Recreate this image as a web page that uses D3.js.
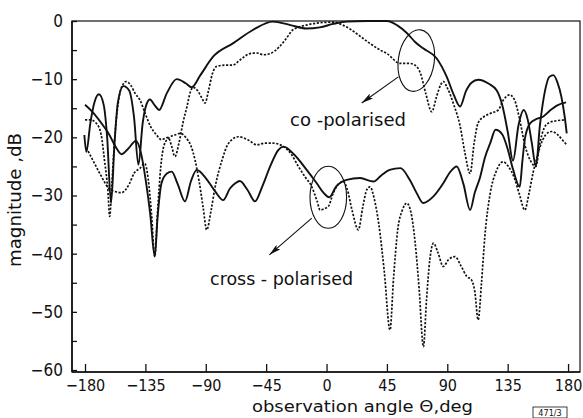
<!DOCTYPE html>
<html><head><meta charset="utf-8">
<script src="https://cdn.jsdelivr.net/npm/d3@7/dist/d3.min.js"></script>
<style>body{margin:0;background:#fff}svg{display:block}</style>
</head><body>
<svg id="chart" width="583" height="418"></svg>
<script>
// ---- data (theta in degrees, magnitude in dB) ----
const xTicks = [-180, -135, -90, -45, 0, 45, 90, 135, 180];
const yTicks = [0, -10, -20, -30, -40, -50, -60];
const yMinorTicks = [-5, -15, -25, -35, -45, -55];

const coPolSolid = [[-180.5,-19.6],[-179,-22.5],[-176,-17.5],[-173,-14],[-169.6,-12.6],[-166,-14.5],[-163.5,-20],[-160.6,-31.3],[-158,-21],[-155.5,-14],[-151.4,-11.2],[-147,-12],[-143.5,-16.5],[-140.2,-24.7],[-137,-17.5],[-134,-14.2],[-131.6,-13.5],[-128,-14.5],[-124.8,-15.3],[-119,-12.4],[-111.6,-10],[-105,-10.7],[-100.5,-11.4],[-94,-9.3],[-84.4,-6.1],[-69.5,-3.8],[-54.6,-1.5],[-40,-0.1],[-27,-0.7],[-15,-1.3],[-5,-1.1],[5,-0.5],[15,-0.1],[30,0],[45,0],[53,-0.8],[60,-2.1],[66,-3.6],[72,-4.7],[82,-6.4],[89.6,-9.6],[95,-12.8],[99.5,-14.7],[104,-12],[108,-10.6],[113,-10.1],[121,-10.8],[127,-12],[131,-14.5],[135,-19],[139,-24],[143,-18],[147,-15.3],[150,-17],[153,-21],[156,-25],[159,-18],[163,-11.8],[166,-9.6],[169,-9.3],[172,-10.5],[175,-13],[177.5,-16.5],[179,-19.3]];

const coPolDashed = [[-180,-17],[-176,-17],[-171.5,-17.6],[-168,-19.5],[-165.5,-23.9],[-163,-29],[-161.6,-33.6],[-160,-28],[-157.5,-19],[-154.5,-13],[-151.5,-10.8],[-149.5,-10.4],[-146,-11],[-142.5,-12.5],[-139,-13.6],[-135,-16],[-131,-18.2],[-127,-19.5],[-123,-20.4],[-118,-20],[-115.5,-21.5],[-113,-23.3],[-110,-21],[-107,-17.5],[-104,-14.7],[-101.5,-12.2],[-99.5,-11.4],[-96,-12],[-93,-13.2],[-90.5,-14.1],[-88,-12],[-85,-9],[-81.8,-7.8],[-76,-7.6],[-70,-7.6],[-64.5,-6.7],[-57,-5.6],[-52,-5.5],[-47,-5.8],[-42,-5.6],[-35,-4.4],[-30,-3],[-25,-1.5],[-15,-0.7],[-5,-0.3],[5,-0.2],[12,-0.7],[17,-1.3],[22,-2.1],[32,-3.8],[40,-5],[45,-5.6],[55,-7.3],[62,-7.3],[66,-7.6],[70,-9],[74,-12.5],[78.4,-15.6],[82,-13],[85,-11],[87,-10.4],[90,-11.5],[95,-14.5],[99.5,-18],[103,-22.5],[107,-26.2],[110,-21],[113,-17.5],[117,-16.5],[122,-15.9],[128,-15.3],[132,-13.5],[136.5,-12.7],[140,-13.5],[144,-17],[148,-21.5],[152,-24],[156,-25],[159,-21],[162,-18.5],[165,-17.6],[170,-17.2],[178.5,-17]];

const crossPolSolid = [[-180,-14.4],[-175,-15.5],[-168,-17.5],[-162,-19.5],[-157.5,-21.5],[-152.6,-22.9],[-148,-22],[-142,-20.6],[-138.5,-22.5],[-135,-27],[-131.5,-33],[-128,-40.5],[-126,-34],[-123,-27.9],[-119,-26.2],[-115.4,-25.9],[-111,-28],[-105.5,-31],[-101,-27.5],[-96.7,-25.6],[-90,-27],[-83,-29.3],[-77,-30.8],[-72,-28.8],[-68,-27.9],[-64.6,-27.5],[-59,-29],[-53.3,-31],[-48,-28.5],[-42,-25],[-36,-22.2],[-32,-21.6],[-24,-23],[-14.8,-25.6],[-7.3,-27.9],[-2,-29.6],[2,-30.3],[7,-28.5],[15,-27.3],[25,-27],[35,-27.6],[41,-26.5],[47,-25.6],[55,-25.3],[62,-27.3],[67,-29.5],[72,-31.3],[79.5,-30.2],[87,-27.9],[92,-26],[97,-25],[102,-28],[107,-32.5],[110.5,-29.5],[114.5,-26.8],[118,-23.5],[122,-21],[126,-18.7],[131,-19.5],[135,-22],[139,-25.5],[144,-28.5],[146,-24],[148,-20],[152,-17.5],[157,-16.8],[161,-16.5],[166,-15.5],[172,-14.5],[178.5,-14]];

const crossPolDashed = [[-179,-21.8],[-174,-24],[-169,-26.2],[-161,-29],[-152.6,-29.5],[-147,-28],[-143.5,-26.2],[-139,-25.3],[-135.5,-24.5],[-133,-27],[-130.5,-33],[-128,-40.5],[-126,-33],[-123.5,-25],[-121,-21.3],[-117,-20],[-113,-19.6],[-109,-19.3],[-105,-20],[-101,-21.5],[-98,-23.9],[-95,-27.5],[-92,-32],[-89.3,-35.9],[-86,-32.5],[-83,-28.5],[-78,-24],[-73,-21],[-65.7,-19.9],[-58,-20.5],[-52,-21.3],[-46,-21],[-40,-21],[-32,-21.6],[-26,-23],[-21,-25],[-16,-26.8],[-11,-28.5],[-7,-31],[-4.8,-32.5],[-1,-32.2],[1.3,-31.9],[5,-29.6],[9,-28],[12.5,-27.6],[15.5,-29],[19,-32.5],[23.7,-35.9],[27,-32],[30,-29],[32.4,-28.5],[35.5,-30.5],[39,-35],[43,-43],[47.3,-53.1],[50,-44],[53,-36],[56.5,-32.5],[59.8,-31.3],[63,-33],[66,-38],[69,-46],[72.2,-56],[74.5,-48],[77,-41],[79.7,-38.2],[83,-39.8],[87,-42.2],[91,-41],[95.8,-40.5],[100,-42],[104.5,-43.9],[108,-44.5],[110.5,-46.5],[113,-51.4],[115.5,-45],[118,-37],[122,-29.6],[126.5,-25.8],[131.5,-24.2],[135.5,-25],[140,-27],[144,-30],[147.7,-32.5],[151,-29.5],[154,-26],[157,-23.3],[161,-20.5],[165,-19.2],[168,-19],[172,-19.5],[176,-20.5],[179,-21.3]];

// annotations (data coordinates)
const labels = [
  {text: "co -polarised", theta: -27.2, db: -18.0, len: 116},
  {text: "cross - polarised", theta: -86.8, db: -45.4, len: 143}
];
const ellipses = [{theta: 66.9, db: -6.8, rx: 18, ry: 31, rot: 8}, {theta: 1.3, db: -30.3, rx: 18.3, ry: 31, rot: 0}];
const arrows = [{from: [53.5, -9.6], to: [26.2, -14.1]}, {from: [-11, -33.9], to: [-42.6, -40.2]}];

// ---- chart ----
const svg = d3.select("#chart");
const L = 72, R = 580, T = 21, B = 372;
const x = d3.scaleLinear().domain([-189.7, 188.9]).range([L, R]);
const y = d3.scaleLinear().domain([-60.34, 0]).range([B, T]);
const font = "'DejaVu Sans Condensed','DejaVu Sans',sans-serif";

// frame
svg.append("rect").attr("x", L).attr("y", T).attr("width", R - L).attr("height", B - T)
  .attr("fill", "none").attr("stroke", "#111").attr("stroke-width", 1.2);
svg.append("line").attr("x1", L).attr("x2", L).attr("y1", T).attr("y2", B).attr("stroke", "#111").attr("stroke-width", 1.6);
svg.append("line").attr("x1", L).attr("x2", R).attr("y1", B).attr("y2", B).attr("stroke", "#111").attr("stroke-width", 1.6);

// x axis
const gx = svg.append("g").attr("transform", `translate(0,${B})`)
  .call(d3.axisBottom(x).tickValues(xTicks).tickSizeInner(-8).tickSizeOuter(0).tickPadding(8).tickFormat(d3.format("d")));
gx.select(".domain").remove();
gx.selectAll("line").attr("stroke", "#111").attr("stroke-width", 1.3);
gx.selectAll("text").attr("font-family", font).attr("font-size", 16).attr("fill", "#111").attr("dy", "0.71em");

// y axis
const gy = svg.append("g").attr("transform", `translate(${L},0)`)
  .call(d3.axisLeft(y).tickValues(yTicks).tickSizeInner(-5).tickSizeOuter(0).tickPadding(9).tickFormat(d3.format("d")));
gy.select(".domain").remove();
gy.selectAll("line").attr("stroke", "#111").attr("stroke-width", 1.3);
gy.selectAll("text").attr("font-family", font).attr("font-size", 17).attr("fill", "#111");
const gym = svg.append("g").attr("transform", `translate(${L},0)`)
  .call(d3.axisLeft(y).tickValues(yMinorTicks).tickSizeInner(-5).tickSizeOuter(0).tickFormat(""));
gym.select(".domain").remove();
gym.selectAll("line").attr("stroke", "#111").attr("stroke-width", 1.3);

// curves
const line = d3.line().x(d => x(d[0])).y(d => y(d[1])).curve(d3.curveMonotoneX);
const series = [
  {data: coPolSolid, dash: null, w: 1.9},
  {data: crossPolSolid, dash: null, w: 1.9},
  {data: coPolDashed, dash: "2.2,1.6", w: 1.7},
  {data: crossPolDashed, dash: "2.2,1.6", w: 1.7}
];
series.forEach(s => {
  svg.append("path").attr("d", line(s.data)).attr("fill", "none").attr("stroke", "#111")
    .attr("stroke-width", s.w).attr("stroke-dasharray", s.dash).attr("stroke-linejoin", "round");
});

// ellipses
ellipses.forEach(e => {
  svg.append("ellipse").attr("cx", 0).attr("cy", 0).attr("rx", e.rx).attr("ry", e.ry)
    .attr("transform", `translate(${x(e.theta)},${y(e.db)}) rotate(${e.rot})`)
    .attr("fill", "none").attr("stroke", "#111").attr("stroke-width", 1.1);
});

// arrows
svg.append("defs").append("marker").attr("id", "ah").attr("viewBox", "0 0 12 6")
  .attr("refX", 12).attr("refY", 3).attr("markerWidth", 12).attr("markerHeight", 6)
  .attr("markerUnits", "userSpaceOnUse").attr("orient", "auto")
  .append("path").attr("d", "M0,0 L12,3 L0,6 L2.5,3 Z").attr("fill", "#111");
arrows.forEach(a => {
  svg.append("line").attr("x1", x(a.from[0])).attr("y1", y(a.from[1]))
    .attr("x2", x(a.to[0])).attr("y2", y(a.to[1]))
    .attr("stroke", "#111").attr("stroke-width", 1.1).attr("marker-end", "url(#ah)");
});

// annotation labels
labels.forEach(l => {
  svg.append("text").attr("x", x(l.theta)).attr("y", y(l.db)).text(l.text)
    .attr("font-family", font).attr("font-size", 17).attr("fill", "#111")
    .attr("textLength", l.len).attr("lengthAdjust", "spacingAndGlyphs");
});

// axis titles
svg.append("text").attr("transform", "translate(21,200) rotate(-90)").attr("text-anchor", "middle")
  .attr("font-family", font).attr("font-size", 17).attr("fill", "#111")
  .attr("textLength", 134).attr("lengthAdjust", "spacingAndGlyphs").text("magnitude ,dB");
svg.append("text").attr("x", 252).attr("y", 412)
  .attr("font-family", font).attr("font-size", 16).attr("fill", "#111")
  .attr("textLength", 221).attr("lengthAdjust", "spacingAndGlyphs").text("observation angle Θ,deg");

// figure number box
svg.append("rect").attr("x", 533).attr("y", 407).attr("width", 34).attr("height", 11)
  .attr("fill", "none").attr("stroke", "#111").attr("stroke-width", 0.8);
svg.append("text").attr("x", 550).attr("y", 416).attr("text-anchor", "middle")
  .attr("font-family", font).attr("font-size", 9).attr("fill", "#111").text("471/3");
</script>
</body></html>
